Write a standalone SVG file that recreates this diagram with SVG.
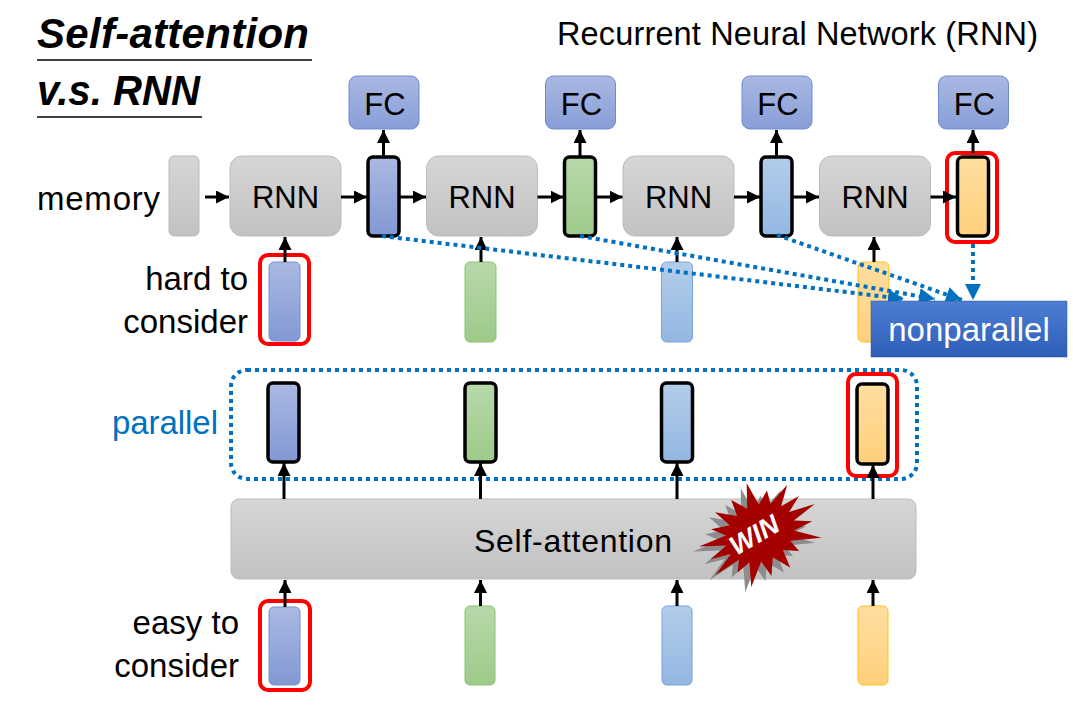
<svg xmlns="http://www.w3.org/2000/svg" width="1073" height="705" viewBox="0 0 1073 705">
<defs>
<linearGradient id="gBlue" x1="0" y1="0" x2="0" y2="1"><stop offset="0" stop-color="#abb9e2"/><stop offset="1" stop-color="#8298d4"/></linearGradient>
<linearGradient id="gGreen" x1="0" y1="0" x2="0" y2="1"><stop offset="0" stop-color="#b8d8aa"/><stop offset="1" stop-color="#9dca89"/></linearGradient>
<linearGradient id="gLBlue" x1="0" y1="0" x2="0" y2="1"><stop offset="0" stop-color="#b3cdea"/><stop offset="1" stop-color="#93b7e2"/></linearGradient>
<linearGradient id="gOrange" x1="0" y1="0" x2="0" y2="1"><stop offset="0" stop-color="#ffdea0"/><stop offset="1" stop-color="#ffd07c"/></linearGradient>
<linearGradient id="gGray" x1="0" y1="0" x2="0" y2="1"><stop offset="0" stop-color="#d6d6d6"/><stop offset="1" stop-color="#c2c2c2"/></linearGradient>
<linearGradient id="gFC" x1="0" y1="0" x2="0" y2="1"><stop offset="0" stop-color="#aab9e2"/><stop offset="1" stop-color="#889ed8"/></linearGradient>
<linearGradient id="gNP" x1="0" y1="0" x2="0" y2="1"><stop offset="0" stop-color="#4d7ed2"/><stop offset="1" stop-color="#2e5eb8"/></linearGradient>
<marker id="ah" markerUnits="userSpaceOnUse" markerWidth="13" markerHeight="13" viewBox="0 0 10 10" refX="10" refY="5" orient="auto"><path d="M0,0 L10,5 L0,10 z" fill="#000"/></marker>
<marker id="bh" markerUnits="userSpaceOnUse" markerWidth="16" markerHeight="16" viewBox="0 0 10 10" refX="10" refY="5" orient="auto"><path d="M0,0 L10,5 L0,10 z" fill="#0070c0"/></marker>
<style>
text{font-family:"Liberation Sans",Arial,sans-serif;fill:#000}
.gray{fill:url(#gGray);stroke:#bcbcbc;stroke-width:1}
.fc{fill:url(#gFC);stroke:#6d8bd0;stroke-width:1}
.vb{fill:url(#gBlue);stroke:#7590d0;stroke-width:1}
.vg{fill:url(#gGreen);stroke:#8ec273;stroke-width:1}
.vl{fill:url(#gLBlue);stroke:#75a3dc;stroke-width:1}
.vo{fill:url(#gOrange);stroke:#ffc21a;stroke-width:1}
.bold{stroke:#000;stroke-width:3.5}
.red{fill:none;stroke:#ff0000;stroke-width:4}
.arr{stroke:#000;stroke-width:3;fill:none;marker-end:url(#ah)}
.dot{stroke:#0070c0;stroke-width:4;stroke-dasharray:4 4;fill:none}
.lbl{font-size:33px}
.box{font-size:31px;text-anchor:middle}
.fct{font-size:31px;text-anchor:middle}
</style>
</defs>

<g id="title">
<text x="37" y="48" font-size="42" font-weight="bold" font-style="italic" textLength="272">Self-attention</text>
<line x1="37" y1="60" x2="312" y2="60" stroke="#000" stroke-width="1.5"/>
<text x="37" y="105" font-size="42" font-weight="bold" font-style="italic" textLength="163" lengthAdjust="spacingAndGlyphs">v.s. RNN</text>
<line x1="37" y1="117" x2="202" y2="117" stroke="#000" stroke-width="1.5"/>
</g>
<g id="header"><text x="557" y="45" font-size="32.5" textLength="481">Recurrent Neural Network (RNN)</text></g>

<g id="labels">
<text class="lbl" x="37" y="210" textLength="123">memory</text>
<text class="lbl" x="248" y="290" text-anchor="end">hard to</text>
<text class="lbl" x="248" y="333" text-anchor="end">consider</text>
<text class="lbl" x="239" y="634" text-anchor="end">easy to</text>
<text class="lbl" x="239" y="677" text-anchor="end">consider</text>
<text class="lbl" x="112" y="434" style="fill:#0070c0" textLength="106">parallel</text>
</g>

<g id="memory"><rect class="gray" x="169" y="156" width="30" height="80" rx="5"/></g>

<g id="rnn1"><rect class="gray" x="230" y="156" width="111" height="80" rx="12"/><text class="box" x="285.5" y="208">RNN</text></g>
<g id="rnn2"><rect class="gray" x="426.5" y="156" width="111" height="80" rx="12"/><text class="box" x="482" y="208">RNN</text></g>
<g id="rnn3"><rect class="gray" x="623" y="156" width="111" height="80" rx="12"/><text class="box" x="678.5" y="208">RNN</text></g>
<g id="rnn4"><rect class="gray" x="819.5" y="156" width="111" height="80" rx="12"/><text class="box" x="875" y="208">RNN</text></g>

<g id="h1"><rect class="vb bold" x="368" y="157" width="31" height="79" rx="5"/></g>
<g id="h2"><rect class="vg bold" x="564.5" y="157" width="31" height="79" rx="5"/></g>
<g id="h3"><rect class="vl bold" x="761" y="157" width="31" height="79" rx="5"/></g>
<g id="h4"><rect class="vo bold" x="957.5" y="157" width="31" height="79" rx="5"/><rect class="red" x="947" y="153" width="50" height="89" rx="8"/></g>

<g id="fc1"><rect class="fc" x="349" y="76" width="70" height="53" rx="8"/><text class="fct" x="385" y="115">FC</text></g>
<g id="fc2"><rect class="fc" x="545.5" y="76" width="70" height="53" rx="8"/><text class="fct" x="581.5" y="115">FC</text></g>
<g id="fc3"><rect class="fc" x="742" y="76" width="70" height="53" rx="8"/><text class="fct" x="778" y="115">FC</text></g>
<g id="fc4"><rect class="fc" x="938.5" y="76" width="70" height="53" rx="8"/><text class="fct" x="974.5" y="115">FC</text></g>

<g id="x1"><rect class="vb" x="269" y="262" width="31" height="79" rx="5"/><rect class="red" x="260" y="255" width="49" height="89" rx="8"/></g>
<g id="x2"><rect class="vg" x="465" y="262" width="31" height="80" rx="5"/></g>
<g id="x3"><rect class="vl" x="661.5" y="262" width="31" height="80" rx="5"/></g>
<g id="x4"><rect class="vo" x="858" y="262" width="31" height="80" rx="5"/></g>

<g id="parallel-box"><rect class="dot" x="231" y="370" width="686" height="109" rx="16"/></g>
<g id="p1"><rect class="vb bold" x="268" y="383" width="31" height="79" rx="5"/></g>
<g id="p2"><rect class="vg bold" x="465" y="383" width="31" height="79" rx="5"/></g>
<g id="p3"><rect class="vl bold" x="661.5" y="383" width="31" height="79" rx="5"/></g>
<g id="p4"><rect class="vo bold" x="857" y="384" width="31" height="80" rx="5"/><rect class="red" x="848" y="374" width="49" height="102" rx="8"/></g>

<g id="self-attention"><rect class="gray" x="231" y="499" width="685" height="80" rx="8"/><text x="573" y="552" font-size="32" text-anchor="middle" textLength="198">Self-attention</text></g>

<g id="b1"><rect class="vb" x="269" y="607" width="31" height="78" rx="5"/><rect class="red" x="260" y="601" width="50" height="89" rx="8"/></g>
<g id="b2"><rect class="vg" x="465" y="606" width="30" height="79" rx="5"/></g>
<g id="b3"><rect class="vl" x="662" y="606" width="30" height="79" rx="5"/></g>
<g id="b4"><rect class="vo" x="858" y="606" width="30" height="79" rx="5"/></g>

<g id="connectors">
<line class="arr" x1="205" y1="197" x2="229" y2="197"/>
<line class="arr" x1="341" y1="197" x2="367" y2="197"/>
<line class="arr" x1="400" y1="197" x2="426" y2="197"/>
<line class="arr" x1="537.5" y1="197" x2="563.5" y2="197"/>
<line class="arr" x1="596.5" y1="197" x2="622.5" y2="197"/>
<line class="arr" x1="734" y1="197" x2="760" y2="197"/>
<line class="arr" x1="793" y1="197" x2="819" y2="197"/>
<line class="arr" x1="930.5" y1="197" x2="956" y2="197"/>
<line class="arr" x1="383.5" y1="156" x2="383.5" y2="130"/>
<line class="arr" x1="580" y1="156" x2="580" y2="130"/>
<line class="arr" x1="776.5" y1="156" x2="776.5" y2="130"/>
<line class="arr" x1="973" y1="153" x2="973" y2="130"/>
<line class="arr" x1="285" y1="262" x2="285" y2="237"/>
<line class="arr" x1="481" y1="262" x2="481" y2="237"/>
<line class="arr" x1="677" y1="262" x2="677" y2="237"/>
<line class="arr" x1="874" y1="262" x2="874" y2="237"/>
<line class="arr" x1="284" y1="499" x2="284" y2="463"/>
<line class="arr" x1="480.5" y1="499" x2="480.5" y2="463"/>
<line class="arr" x1="677" y1="499" x2="677" y2="463"/>
<line class="arr" x1="873" y1="499" x2="873" y2="465"/>
<line class="arr" x1="285" y1="607" x2="285" y2="580"/>
<line class="arr" x1="480.5" y1="606" x2="480.5" y2="580"/>
<line class="arr" x1="677" y1="606" x2="677" y2="580"/>
<line class="arr" x1="873" y1="606" x2="873" y2="580"/>
<line class="dot" x1="382" y1="236" x2="904" y2="299" marker-end="url(#bh)"/>
<line class="dot" x1="580" y1="236" x2="935" y2="299" marker-end="url(#bh)"/>
<line class="dot" x1="777" y1="235" x2="962" y2="300" marker-end="url(#bh)"/>
<line class="dot" x1="973" y1="244" x2="973" y2="300" marker-end="url(#bh)"/>
</g>

<g id="nonparallel"><rect x="871" y="301" width="196" height="56" fill="url(#gNP)" stroke="#2f5597" stroke-width="0.5"/><text x="969" y="341" font-size="33" text-anchor="middle" style="fill:#fff">nonparallel</text></g>

<g id="win">
<polygon transform="translate(754,538) rotate(-28) scale(1,0.76)" fill="#8c8c8c" points="62,0 35.5,6.3 51.7,18.8 31.2,18 52.1,43.7 23.1,27.6 26,45 12.3,33.8 10.4,59.1 0,36 -10.1,57.1 -12.3,33.8 -33,57.2 -23.1,27.6 -38.3,32.1 -31.2,18 -59.2,21.5 -35.5,6.3 -56,0 -35.5,-6.3 -60.2,-21.9 -31.2,-18 -41.4,-34.7 -23.1,-27.6 -30,-52 -12.3,-33.8 -9.9,-56.1 0,-36 11.6,-66 12.3,-33.8 26,-45 23.1,-27.6 46.7,-39.2 31.2,-18 51.7,-18.8 35.5,-6.3"/>
<polygon transform="translate(760,533) rotate(-28) scale(1,0.76)" fill="#a50000" points="62,0 35.5,6.3 51.7,18.8 31.2,18 52.1,43.7 23.1,27.6 26,45 12.3,33.8 10.4,59.1 0,36 -10.1,57.1 -12.3,33.8 -33,57.2 -23.1,27.6 -38.3,32.1 -31.2,18 -59.2,21.5 -35.5,6.3 -56,0 -35.5,-6.3 -60.2,-21.9 -31.2,-18 -41.4,-34.7 -23.1,-27.6 -30,-52 -12.3,-33.8 -9.9,-56.1 0,-36 11.6,-66 12.3,-33.8 26,-45 23.1,-27.6 46.7,-39.2 31.2,-18 51.7,-18.8 35.5,-6.3"/>
<text transform="translate(759,543) rotate(-30)" font-size="27" font-weight="bold" font-style="italic" text-anchor="middle" style="fill:#fff">WIN</text>
</g>
</svg>
